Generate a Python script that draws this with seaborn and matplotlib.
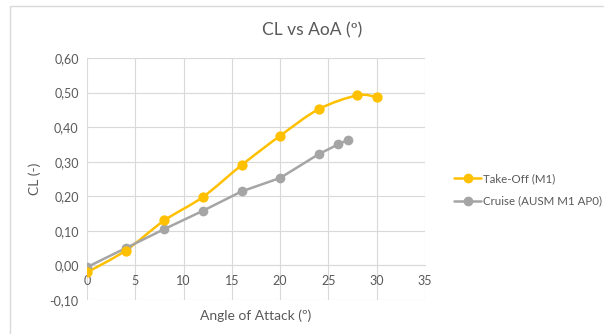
import numpy as np
import pandas as pd
import matplotlib.pyplot as plt
import seaborn as sns
from matplotlib.path import Path
from matplotlib.patches import PathPatch, Rectangle
from matplotlib.lines import Line2D
from matplotlib.ticker import FuncFormatter, MultipleLocator

# data
takeoff_aoa = [0, 4, 8, 12, 16, 20, 24, 28, 30]
takeoff_cl = [-0.02, 0.043, 0.13, 0.198, 0.29, 0.375, 0.452, 0.492, 0.487]
cruise_aoa = [0, 4, 8, 12, 16, 20, 24, 26, 27]
cruise_cl = [-0.005, 0.05, 0.105, 0.158, 0.214, 0.253, 0.322, 0.35, 0.363]

takeoff_label = 'Take-Off (M1)'
cruise_label = 'Cruise (AUSM M1 AP0)'

orange = '#FFC000'
grey = '#A5A5A5'
text_col = '#595959'

sns.set_theme(style='whitegrid')
plt.rcParams['font.family'] = ['Lato', 'DejaVu Sans']

fig = plt.figure(figsize=(6.04, 3.34), dpi=100)
ax = fig.add_axes([87/604, 1 - 300/334, 338/604, 242/334])

# chart border (Excel chart area)
fig.patches.append(Rectangle((10/604, -0.1), 1.2, 1 - 6/334 + 0.1,
                             transform=fig.transFigure, fill=False,
                             edgecolor='#D9D9D9', lw=1.0))


def smooth_path(xs, ys):
    # Excel-style smoothed line: cubic bezier through the points
    pts = np.column_stack([xs, ys]).astype(float)
    n = len(pts)
    verts = [pts[0]]
    codes = [Path.MOVETO]
    for i in range(n - 1):
        p0 = pts[i - 1] if i > 0 else pts[i]
        p1 = pts[i]
        p2 = pts[i + 1]
        p3 = pts[i + 2] if i + 2 < n else pts[i + 1]
        c1 = p1 + (p2 - p0) / 6.0
        c2 = p2 - (p3 - p1) / 6.0
        verts += [c1, c2, p2]
        codes += [Path.CURVE4] * 3
    return Path(verts, codes)


ax.add_patch(PathPatch(smooth_path(takeoff_aoa, takeoff_cl), fill=False,
                       edgecolor=orange, lw=1.8, zorder=3))
sns.scatterplot(x=takeoff_aoa, y=takeoff_cl, color=orange, s=55,
                edgecolor=orange, linewidth=0, ax=ax, zorder=4)

sns.lineplot(x=cruise_aoa, y=cruise_cl, color=grey, lw=1.8, marker='o',
             markersize=7, markeredgewidth=0, ax=ax, zorder=3)

ax.set_xlim(0, 35)
ax.set_ylim(-0.10, 0.60)
ax.xaxis.set_major_locator(MultipleLocator(5))
ax.yaxis.set_major_locator(MultipleLocator(0.1))
ax.yaxis.set_major_formatter(FuncFormatter(lambda v, p: f'{v:.2f}'.replace('.', ',')))

ax.grid(True, color='#D9D9D9', lw=0.8)
for s in ['top', 'right', 'left']:
    ax.spines[s].set_visible(False)
ax.spines['bottom'].set_position(('data', 0))
ax.spines['bottom'].set_color('#D9D9D9')
ax.spines['bottom'].set_linewidth(0.8)
ax.tick_params(axis='y', length=0, labelsize=9, colors=text_col, pad=6)
ax.tick_params(axis='x', length=0, labelsize=9, colors=text_col, pad=7)

ax.set_xlabel('Angle of Attack (º)', fontsize=10, color=text_col)
ax.xaxis.set_label_coords(0.5, -0.04)
ax.set_ylabel('CL (-)', fontsize=10, color=text_col, labelpad=6)
fig.text(312/604, 1 - 30/334, 'CL vs AoA (º)', fontsize=12.5, color=text_col,
         ha='center', va='center')

handles = [Line2D([], [], color=orange, lw=1.8, marker='o', markersize=6),
           Line2D([], [], color=grey, lw=1.8, marker='o', markersize=6)]
fig.legend(handles, [takeoff_label, cruise_label], loc='center left',
           bbox_to_anchor=(444/604, 1 - 190/334), frameon=False, fontsize=8.3,
           labelcolor=text_col, handlelength=2.3, handletextpad=0.15,
           labelspacing=1.0)

fig.savefig('out.png', dpi=100)
